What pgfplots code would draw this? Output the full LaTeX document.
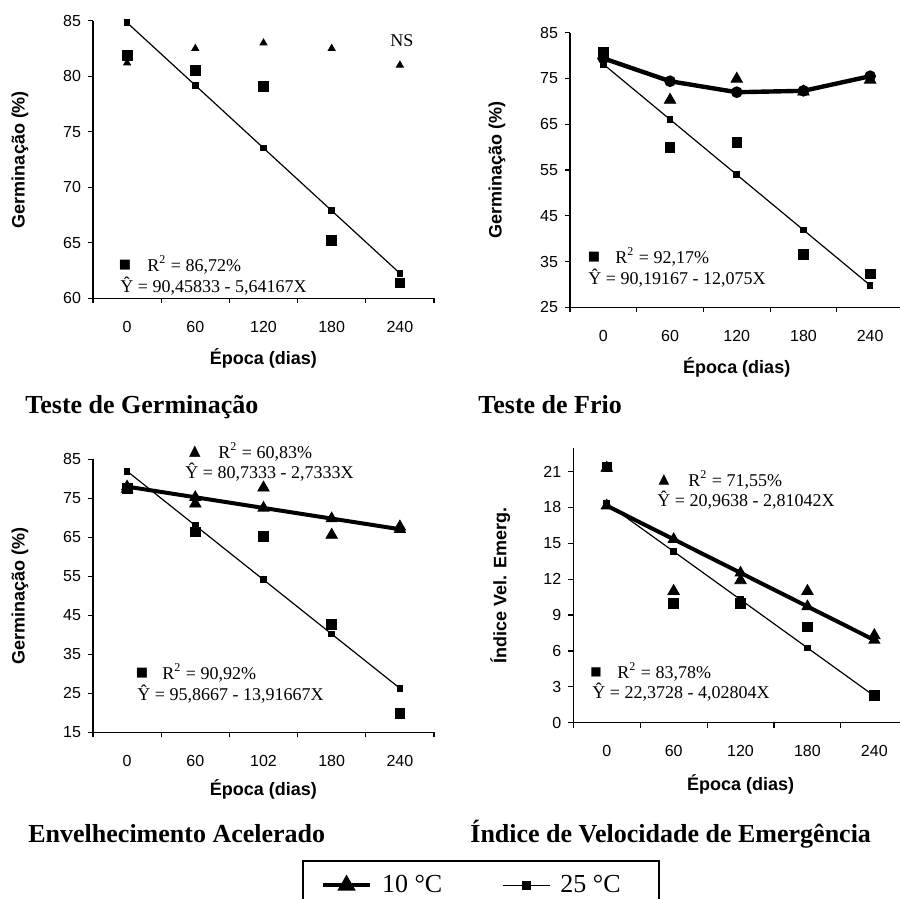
\documentclass[border=0pt]{standalone}
\usepackage{fontspec}
\setmainfont{Liberation Serif}
\setsansfont{Liberation Sans}
\newfontfamily\symfont{DejaVu Sans}
\usepackage{pgfplots}
\pgfplotsset{compat=1.18}

\pgfplotsset{
  panel/.style={
    scale only axis,
    axis x line*=bottom, axis y line*=left,
    axis line style={-, line width=0.6pt},
    xmin=-0.5, xmax=4.5,
    xtick={0,1,2,3,4},
    minor xtick={-0.5,0.5,1.5,2.5,3.5,4.5},
    major x tick style={draw=none},
    tick align=outside,
    major tick length=2.5pt, minor tick length=2.5pt,
    tick style={black, line width=0.6pt},
    /pgf/number format/assume math mode=true,
    tick label style={font=\sffamily\fontsize{8}{9.6}\selectfont},
    xticklabel style={yshift=-5.5pt},
    label style={font=\sffamily\bfseries\fontsize{9}{11}\selectfont},
    clip=false,
  },
  obs25/.style={only marks, mark=square*, mark size=2.4pt, black, forget plot},
  fit25/.style={black, line width=0.6pt, mark=square*, mark size=1.35pt},
  obs10/.style={only marks, mark=triangle*, mark size=3.3pt, black, forget plot},
  fit10/.style={black, line width=2pt, mark=triangle*, mark size=1.6pt},
}
\newcommand{\eqfont}{\fontsize{9}{11}\selectfont}
\newcommand{\ttlfont}{\bfseries\fontsize{13}{15}\selectfont}

\begin{document}
\begin{tikzpicture}[x=0.5pt,y=-0.5pt]
\useasboundingbox (0,0) rectangle (900,899);

% --- Teste de Germinacao ---
\begin{axis}[panel,
  at={(46.5pt,-149.15pt)}, anchor=south west,
  width=170.5pt, height=138.8pt,
  ymin=60, ymax=85, ytick={60,65,...,85},
  xticklabels={0,60,120,180,240},
  xlabel={Época (dias)}, ylabel={Germinação (\%)},
  xlabel style={at={(axis description cs:0.5,-0.216)}, anchor=center},
  ylabel style={at={(axis description cs:-0.214,0.5)}, anchor=center},
]
\addplot[obs10, mark size=2pt] coordinates {(0,81.2)(1,82.5)(2,83.0)(3,82.5)(4,81.0)};
\addplot[obs25] coordinates {(0,81.9)(1,80.5)(2,79.1)(3,65.2)(4,61.4)};
\addplot[fit25, forget plot] coordinates {(0,84.82)(1,79.18)(2,73.53)(3,67.89)(4,62.25)};
\end{axis}

% --- Teste de Frio ---
\begin{axis}[panel,
  at={(285pt,-153.65pt)}, anchor=south west,
  width=166.75pt, height=137.3pt,
  ymin=25, ymax=85, ytick={25,35,...,85},
  xticklabels={0,60,120,180,240},
  xlabel={Época (dias)}, ylabel={Germinação (\%)},
  xlabel style={at={(axis description cs:0.5,-0.2185)}, anchor=center},
  ylabel style={at={(axis description cs:-0.219,0.5)}, anchor=center},
]
\addplot[obs10] coordinates {(0,80.0)(1,70.3)(2,74.9)(3,72.1)(4,74.7)};
\addplot[black, line width=2.2pt, mark=*, mark size=1.75pt, forget plot] coordinates {(0,79.4)(1,74.4)(2,72.0)(3,72.3)(4,75.5)};
\addplot[obs25] coordinates {(0,80.8)(1,60.0)(2,61.0)(3,36.6)(4,32.3)};
\addplot[fit25, forget plot] coordinates {(0,78.12)(1,66.04)(2,53.97)(3,41.89)(4,29.82)};
\end{axis}

% --- Envelhecimento Acelerado ---
\begin{axis}[panel,
  at={(46.5pt,-366.15pt)}, anchor=south west,
  width=170.5pt, height=136.5pt,
  ymin=15, ymax=85, ytick={15,25,...,85},
  xticklabels={0,60,102,180,240},
  xlabel={Época (dias)}, ylabel={Germinação (\%)},
  xlabel style={at={(axis description cs:0.5,-0.209)}, anchor=center},
  ylabel style={at={(axis description cs:-0.214,0.5)}, anchor=center},
  legend columns=2,
  legend cell align=left,
  legend image code/.code={\draw[#1, mark repeat=2, mark phase=2] plot coordinates {(0pt,0pt) (11.75pt,0pt) (23.5pt,0pt)};},
  legend style={at={(axis description cs:0.613,-0.468)}, anchor=north west,
    draw=black, line width=1pt, font=\fontsize{13}{15}\selectfont,
    inner xsep=9pt, inner ysep=5pt,
    /tikz/every odd column/.append style={column sep=3pt},
    /tikz/every even column/.append style={column sep=28pt}},
]
\addplot[obs10] coordinates {(0,77.4)(1,73.6)(2,77.7)(3,65.6)(4,67.7)};
\addplot[fit10, forget plot] coordinates {(0,78.0)(1,75.27)(2,72.53)(3,69.80)(4,67.07)};
\addplot[obs25] coordinates {(0,77.5)(1,66.4)(2,65.2)(3,42.7)(4,19.9)};
\addplot[fit25, forget plot] coordinates {(0,81.95)(1,68.03)(2,54.12)(3,40.20)(4,26.28)};
\addlegendimage{black, line width=2pt, mark=triangle*, mark size=3.3pt}
\addlegendentry{10 °C}
\addlegendimage{black, line width=0.6pt, mark=square*, mark size=2pt}
\addlegendentry{25 °C\hspace*{8pt}}
\end{axis}

% --- Indice de Velocidade de Emergencia ---
\begin{axis}[panel,
  at={(286.65pt,-361.35pt)}, anchor=south west,
  width=167.25pt, height=137.5pt,
  ymin=0, ymax=23, ytick={0,3,...,21},
  xticklabels={0,60,120,180,240},
  xlabel={Época (dias)}, ylabel={Índice Vel. Emerg.},
  xlabel style={at={(axis description cs:0.5,-0.225)}, anchor=center},
  ylabel style={at={(axis description cs:-0.218,0.5)}, anchor=center},
]
\addplot[obs10] coordinates {(0,21.3)(1,11.0)(2,11.9)(3,11.0)(4,7.3)};
\addplot[fit10, forget plot] coordinates {(0,18.15)(1,15.34)(2,12.53)(3,9.72)(4,6.91)};
\addplot[obs25] coordinates {(0,21.4)(1,10.0)(2,10.0)(3,8.0)(4,2.3)};
\addplot[fit25, forget plot] coordinates {(0,18.34)(1,14.32)(2,10.29)(3,6.26)(4,2.23)};
\end{axis}

% regression notes
\begin{scope}[every node/.style={inner sep=0pt}]
\node[font=\eqfont] at (402,41) {NS};
\node[font=\symfont\fontsize{6.5}{8}\selectfont] at (125,265) {■};
\node[anchor=west, font=\eqfont] at (147,265) {R\textsuperscript{2} = 86,72\%};
\node[anchor=west, font=\eqfont] at (120,286) {Ŷ = 90,45833 - 5,64167X};

\node[font=\symfont\fontsize{6.5}{8}\selectfont] at (594,257) {■};
\node[anchor=west, font=\eqfont] at (615,257) {R\textsuperscript{2} = 92,17\%};
\node[anchor=west, font=\eqfont] at (588,278) {Ŷ = 90,19167 - 12,075X};

\node[font=\symfont\fontsize{7.5}{9}\selectfont] at (195,452) {▲};
\node[anchor=west, font=\eqfont] at (218,452) {R\textsuperscript{2} = 60,83\%};
\node[anchor=west, font=\eqfont] at (185,472) {Ŷ = 80,7333 - 2,7333X};
\node[font=\symfont\fontsize{6.5}{8}\selectfont] at (142,673) {■};
\node[anchor=west, font=\eqfont] at (162,673) {R\textsuperscript{2} = 90,92\%};
\node[anchor=west, font=\eqfont] at (137,694) {Ŷ = 95,8667 - 13,91667X};

\node[font=\symfont\fontsize{7}{8}\selectfont] at (664,480) {▲};
\node[anchor=west, font=\eqfont] at (688,480) {R\textsuperscript{2} = 71,55\%};
\node[anchor=west, font=\eqfont] at (657,500) {Ŷ = 20,9638 - 2,81042X};
\node[font=\symfont\fontsize{6}{8}\selectfont] at (596,672) {■};
\node[anchor=west, font=\eqfont] at (617,672) {R\textsuperscript{2} = 83,78\%};
\node[anchor=west, font=\eqfont] at (592,692) {Ŷ = 22,3728 - 4,02804X};
\end{scope}

% panel titles
\node[anchor=base west, inner sep=0pt, font=\ttlfont] at (25,413) {Teste de Germinação};
\node[anchor=base west, inner sep=0pt, font=\ttlfont] at (478,413) {Teste de Frio};
\node[anchor=base west, inner sep=0pt, font=\ttlfont] at (28,842) {Envelhecimento Acelerado};
\node[anchor=base west, inner sep=0pt, font=\ttlfont] at (470,842) {Índice de Velocidade de Emergência};
\end{tikzpicture}
\end{document}
